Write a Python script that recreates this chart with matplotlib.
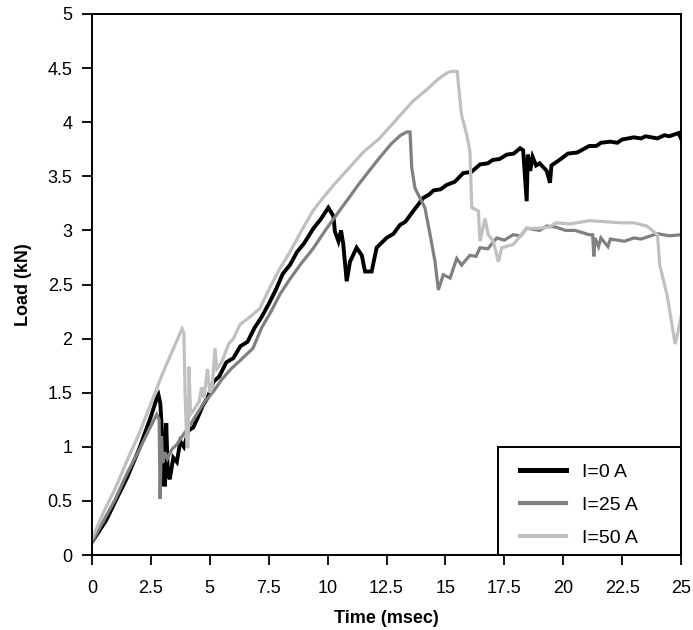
import matplotlib
matplotlib.use("Agg")
import matplotlib.pyplot as plt
from matplotlib.patches import Rectangle

plt.rcParams['font.family'] = ['Liberation Sans', 'DejaVu Sans']

# I = 0 A
t0 = [0, 0.3, 0.6, 1.0, 1.5, 2.0, 2.5, 2.75, 2.82, 2.9, 2.98, 3.05, 3.1, 3.15, 3.22, 3.3,
      3.45, 3.6, 3.75, 3.9, 4.1, 4.3, 4.45, 4.7, 4.9, 5.15, 5.4, 5.7, 6.0, 6.3, 6.6, 6.9,
      7.2, 7.5, 7.8, 8.1, 8.4, 8.7, 9.0, 9.4, 9.7, 10.03, 10.25, 10.31, 10.46, 10.57, 10.66,
      10.81, 10.95, 11.23, 11.45, 11.59, 11.87, 12.08, 12.5, 12.8, 13.07, 13.3, 13.64, 14.06,
      14.3, 14.5, 14.8, 15.05, 15.4, 15.76, 16.1, 16.47, 16.8, 17.0, 17.3, 17.6, 17.9, 18.17,
      18.3, 18.45, 18.5, 18.6, 18.7, 18.85, 19.0, 19.3, 19.44, 19.5, 19.7, 19.9, 20.2, 20.6,
      21.1, 21.4, 21.6, 22.0, 22.3, 22.5, 23.0, 23.3, 23.5, 24.0, 24.3, 24.5, 24.9, 25.0]
l0 = [0.12, 0.22, 0.32, 0.5, 0.72, 0.98, 1.28, 1.45, 1.48, 1.4, 1.1, 0.65, 0.65, 1.22, 0.75, 0.7,
      0.9, 0.86, 1.05, 1.0, 1.15, 1.18, 1.25, 1.38, 1.45, 1.6, 1.65, 1.78, 1.82, 1.93, 1.97, 2.1,
      2.2, 2.32, 2.45, 2.6, 2.68, 2.8, 2.88, 3.02, 3.1, 3.21, 3.13, 2.99, 2.9, 3.0, 2.88,
      2.53, 2.71, 2.84, 2.77, 2.62, 2.62, 2.84, 2.93, 2.97, 3.05, 3.08, 3.18, 3.3,
      3.33, 3.37, 3.38, 3.42, 3.45, 3.53, 3.54, 3.61, 3.62, 3.65, 3.66, 3.7, 3.71, 3.76,
      3.74, 3.27, 3.70, 3.55, 3.68, 3.6, 3.62, 3.55, 3.44, 3.6, 3.63, 3.66, 3.71, 3.72,
      3.78, 3.78, 3.81, 3.82, 3.81, 3.84, 3.86, 3.85, 3.87, 3.85, 3.88, 3.87, 3.90, 3.85]

# I = 25 A
t25 = [0, 0.5, 1.0, 1.5, 2.0, 2.4, 2.75, 2.85, 2.89, 2.95, 3.0, 3.1, 3.2, 3.4, 3.6, 3.9, 4.16,
       4.5, 4.8, 5.15, 5.5, 5.9, 6.3, 6.83, 7.2, 7.6, 7.98, 8.4, 8.9, 9.38, 9.9, 10.4, 10.8,
       11.3, 11.8, 12.2, 12.7, 13.1, 13.37, 13.5, 13.57, 13.71, 13.92, 14.13, 14.35, 14.56,
       14.7, 14.91, 15.2, 15.48, 15.69, 16.04, 16.3, 16.47, 16.8, 17.18, 17.5, 17.88, 18.2,
       18.45, 19.0, 19.3, 19.7, 20.1, 20.5, 21.1, 21.25, 21.3, 21.35, 21.5, 21.6, 21.9, 22.0,
       22.6, 23.0, 23.3, 24.0, 24.5, 25.0]
l25 = [0.12, 0.32, 0.52, 0.76, 0.97, 1.15, 1.30, 1.25, 0.52, 1.1, 0.85, 0.95, 0.89, 0.98, 1.02,
       1.12, 1.2, 1.32, 1.42, 1.51, 1.62, 1.72, 1.8, 1.91, 2.1, 2.25, 2.41, 2.55, 2.7, 2.83,
       3.0, 3.15, 3.27, 3.42, 3.56, 3.67, 3.8, 3.88, 3.91, 3.91, 3.58, 3.39, 3.30, 3.21, 2.96,
       2.71, 2.45, 2.59, 2.56, 2.74, 2.68, 2.77, 2.76, 2.84, 2.83, 2.93, 2.91, 2.96, 2.95,
       3.02, 3.0, 3.04, 3.03, 3.0, 3.0, 2.96, 2.96, 2.76, 2.93, 2.85, 2.93, 2.85, 2.92,
       2.9, 2.93, 2.92, 2.97, 2.95, 2.96]

# I = 50 A
t50 = [0, 0.5, 1.0, 1.5, 2.0, 2.5, 3.0, 3.5, 3.82, 3.9, 3.95, 4.03, 4.08, 4.12, 4.18, 4.35,
       4.55, 4.65, 4.75, 4.9, 5.0, 5.1, 5.22, 5.3, 5.5, 5.8, 6.0, 6.28, 6.7, 7.13, 7.5, 7.98,
       8.4, 8.9, 9.38, 9.8, 10.3, 10.8, 11.5, 12.2, 12.9, 13.6, 14.2, 14.7, 15.1, 15.28, 15.5,
       15.62, 15.68, 15.9, 16.04, 16.12, 16.4, 16.47, 16.68, 16.82, 17.03, 17.25, 17.39, 17.88,
       18.45, 19.0, 19.4, 19.7, 20.3, 21.1, 21.8, 22.5, 23.0, 23.55, 24.0, 24.1, 24.4, 24.55,
       24.75, 24.9, 25.0]
l50 = [0.15, 0.4, 0.62, 0.88, 1.12, 1.4, 1.68, 1.93, 2.09, 2.05, 1.5, 1.0, 1.0, 1.74, 1.3, 1.35,
       1.42, 1.55, 1.45, 1.72, 1.5, 1.55, 1.91, 1.72, 1.78, 1.95, 2.0, 2.13, 2.2, 2.28, 2.45, 2.65,
       2.8, 3.0, 3.18, 3.3, 3.43, 3.55, 3.72, 3.85, 4.02, 4.19, 4.3, 4.4, 4.46, 4.47, 4.47,
       4.2, 4.07, 3.89, 3.73, 3.21, 3.18, 2.90, 3.11, 2.96, 2.90, 2.71, 2.84, 2.87,
       3.02, 3.02, 3.03, 3.07, 3.06, 3.09, 3.08, 3.07, 3.07, 3.04, 2.96, 2.68, 2.41, 2.22,
       1.95, 2.09, 2.2]

series = [("I=0 A", t0, l0, "#000000", 2.8),
          ("I=25 A", t25, l25, "#808080", 2.3),
          ("I=50 A", t50, l50, "#c0c0c0", 2.3)]

xticks = [0, 2.5, 5, 7.5, 10, 12.5, 15, 17.5, 20, 22.5, 25]
xticklabels = ["0", "2.5", "5", "7.5", "10", "12.5", "15", "17.5", "20", "22.5", "25"]
yticks = [0, 0.5, 1, 1.5, 2, 2.5, 3, 3.5, 4, 4.5, 5]
yticklabels = ["0", "0.5", "1", "1.5", "2", "2.5", "3", "3.5", "4", "4.5", "5"]

fig = plt.figure(figsize=(6.93, 6.30), dpi=100)
ax = fig.add_axes([92/693, 75/630, 589/693, 541/630])

for name, t, l, c, lw in series:
    ax.plot(t, l, color=c, lw=lw, label=name, solid_joinstyle='miter')

ax.set_xlim(0, 25)
ax.set_ylim(0, 5)
ax.set_xticks(xticks)
ax.set_xticklabels(xticklabels)
ax.set_yticks(yticks)
ax.set_yticklabels(yticklabels)
ax.tick_params(direction='out', length=7, width=1.3, labelsize=13, color='black')
ax.tick_params(axis='x', pad=11)
ax.tick_params(axis='y', pad=7)
for s in ax.spines.values():
    s.set_linewidth(1.4)

ax.set_xlabel("Time (msec)", fontsize=13, fontweight='bold', labelpad=9.5)
ax.set_ylabel("Load (kN)", fontsize=13, fontweight='bold', labelpad=11)

# legend box
x0 = (498 - 92) / 589
h = (555 - 447) / 541
ax.add_patch(Rectangle((x0, 0), 1 - x0, h, transform=ax.transAxes, fill=True,
                       facecolor='white', edgecolor='black', lw=1.4, zorder=4,
                       clip_on=False))
leg = ax.legend(loc='upper left', bbox_to_anchor=((520 - 92) / 589, (555 - 463) / 541),
                fontsize=14, frameon=False, borderaxespad=0, borderpad=0,
                handlelength=2.37, handletextpad=0.82, labelspacing=0.8)
leg.set_zorder(5)
leg.get_lines()[0].set_linewidth(3.6)
leg.get_lines()[1].set_linewidth(3.0)
leg.get_lines()[2].set_linewidth(3.0)

fig.savefig("out.png", dpi=100)
